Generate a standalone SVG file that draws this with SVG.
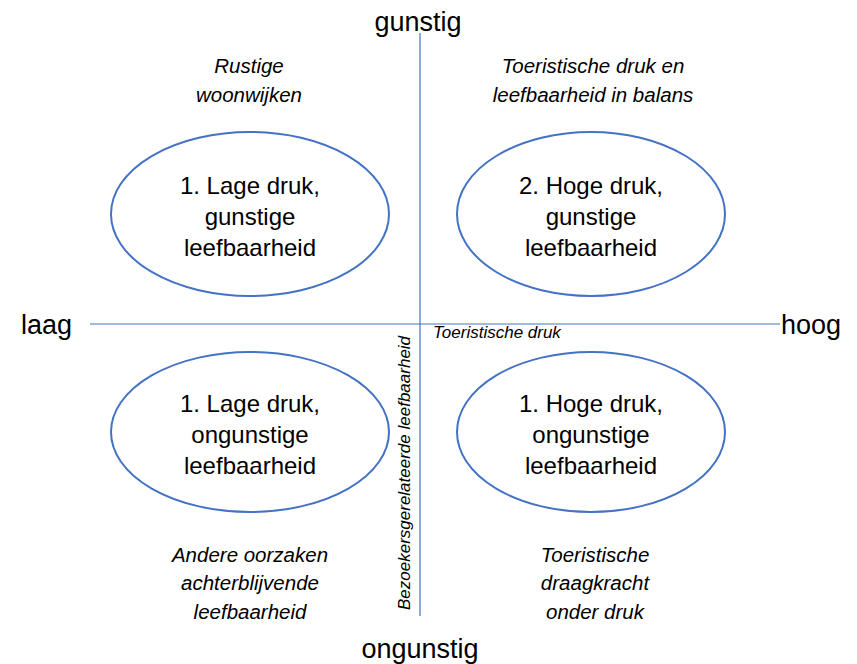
<svg xmlns="http://www.w3.org/2000/svg" width="857" height="664" viewBox="0 0 857 664">
<style>
.ax{stroke:#4472C4;stroke-width:1.2;fill:none}
.el{stroke:#4472C4;stroke-width:2;fill:#fff}
text{font-family:"Liberation Sans",Arial,sans-serif;fill:#000}
.big{font-size:24px;text-anchor:middle}
.ttl{font-size:27px}
.it{font-size:20.5px;font-style:italic;text-anchor:middle}
.sm{font-size:17px;font-style:italic}
</style>
<rect width="857" height="664" fill="#fff"/>
<g id="connectors">
<line class="ax" x1="420" y1="33" x2="420" y2="616"/>
<line class="ax" x1="90" y1="324" x2="780" y2="324"/>
</g>
<g id="axis-labels">
<text class="ttl" x="418" y="31" text-anchor="middle">gunstig</text>
<text class="ttl" x="420" y="658" text-anchor="middle">ongunstig</text>
<text class="ttl" x="21" y="334">laag</text>
<text class="ttl" x="781" y="334">hoog</text>
<text class="sm" x="433" y="338">Toeristische druk</text>
<text class="sm" transform="translate(410,610) rotate(-90)">Bezoekersgerelateerde leefbaarheid</text>
</g>
<g id="q1">
<ellipse class="el" cx="250" cy="214" rx="139" ry="82"/>
<text class="big" x="250" y="194">1. Lage druk,</text>
<text class="big" x="250" y="225">gunstige</text>
<text class="big" x="250" y="256">leefbaarheid</text>
</g>
<g id="q2">
<ellipse class="el" cx="591" cy="214" rx="134" ry="82"/>
<text class="big" x="591" y="194">2. Hoge druk,</text>
<text class="big" x="591" y="225">gunstige</text>
<text class="big" x="591" y="256">leefbaarheid</text>
</g>
<g id="q3">
<ellipse class="el" cx="250" cy="432" rx="139" ry="80"/>
<text class="big" x="250" y="412">1. Lage druk,</text>
<text class="big" x="250" y="443">ongunstige</text>
<text class="big" x="250" y="474">leefbaarheid</text>
</g>
<g id="q4">
<ellipse class="el" cx="591" cy="432" rx="134" ry="80"/>
<text class="big" x="591" y="412">1. Hoge druk,</text>
<text class="big" x="591" y="443">ongunstige</text>
<text class="big" x="591" y="474">leefbaarheid</text>
</g>
<g id="captions">
<text class="it" x="249" y="73">Rustige</text>
<text class="it" x="249" y="102">woonwijken</text>
<text class="it" x="593" y="73">Toeristische druk en</text>
<text class="it" x="593" y="102">leefbaarheid in balans</text>
<text class="it" x="250" y="562">Andere oorzaken</text>
<text class="it" x="250" y="590">achterblijvende</text>
<text class="it" x="250" y="619">leefbaarheid</text>
<text class="it" x="595" y="562">Toeristische</text>
<text class="it" x="595" y="590">draagkracht</text>
<text class="it" x="595" y="619">onder druk</text>
</g>
</svg>
